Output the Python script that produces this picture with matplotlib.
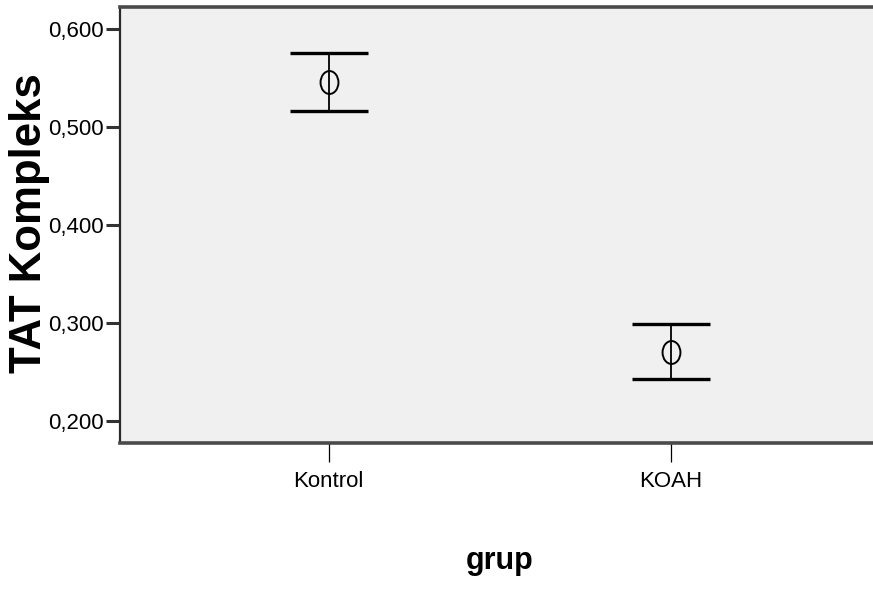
import matplotlib
matplotlib.use("Agg")
import matplotlib.pyplot as plt
from matplotlib import font_manager
from matplotlib.path import Path
from matplotlib.transforms import Affine2D
from matplotlib.ticker import FuncFormatter

# Mean TAT complex per group with 95% CI half-widths
groups = ["Kontrol", "KOAH"]
means = [0.5459, 0.2708]
ci_half = [0.0293, 0.0279]
y_ticks = [0.2, 0.3, 0.4, 0.5, 0.6]

# Prefer a narrow face for the tick labels if one is installed
installed = {f.name for f in font_manager.fontManager.ttflist}
if "Liberation Sans Narrow" in installed:
    narrow = "Liberation Sans Narrow"
    tick_size, xlab_size = 19, 26
else:
    narrow = "Liberation Sans"
    tick_size, xlab_size = 16, 22

fig = plt.figure(figsize=(8.73, 5.90), dpi=100)
ax = fig.add_axes([120 / 873, 147 / 590, 753 / 873, 436 / 590])
ax.set_facecolor("#f0f0f0")

x = list(range(len(groups)))

# CI bars
ax.errorbar(x, means, yerr=ci_half, fmt="none", ecolor="black",
            elinewidth=1.3, capsize=28, capthick=2.4, zorder=3)

# Mean marker: open, slightly tall ellipse
ellipse = Path.unit_circle().transformed(Affine2D().scale(0.78, 1.0))
ax.plot(x, means, linestyle="none", marker=ellipse, markersize=16.5,
        markerfacecolor="none", markeredgecolor="black",
        markeredgewidth=1.4, zorder=4)

ax.set_xlim(-0.61, 1.59)
ax.set_ylim(0.1776, 0.6224)

ax.set_xticks(x)
ax.set_xticklabels(groups, fontfamily=narrow, fontsize=tick_size)
ax.set_yticks(y_ticks)
ax.yaxis.set_major_formatter(FuncFormatter(lambda v, pos: f"{v:.3f}".replace(".", ",")))
for lab in ax.get_yticklabels():
    lab.set_fontfamily(narrow)
    lab.set_fontsize(tick_size)

ax.tick_params(axis="y", direction="out", length=10, width=2.2,
               color="#333333", pad=1.5)
ax.tick_params(axis="x", direction="out", length=14, width=0.9,
               color="black", pad=6)

for side in ("top", "bottom"):
    ax.spines[side].set_linewidth(2.6)
    ax.spines[side].set_color("#4a4a4a")
ax.spines["left"].set_linewidth(1.6)
ax.spines["left"].set_color("#2a2a2a")
ax.spines["right"].set_visible(False)

ax.set_ylabel("TAT Kompleks", fontfamily="Liberation Sans", fontweight="bold",
              fontsize=31.5, va="center")
ax.yaxis.set_label_coords(-0.12, 0.505)
ax.set_xlabel("grup", fontfamily=narrow, fontweight="bold",
              fontsize=xlab_size, va="center")
ax.xaxis.set_label_coords(0.5046, -0.27)

fig.savefig("out.png", dpi=100)
